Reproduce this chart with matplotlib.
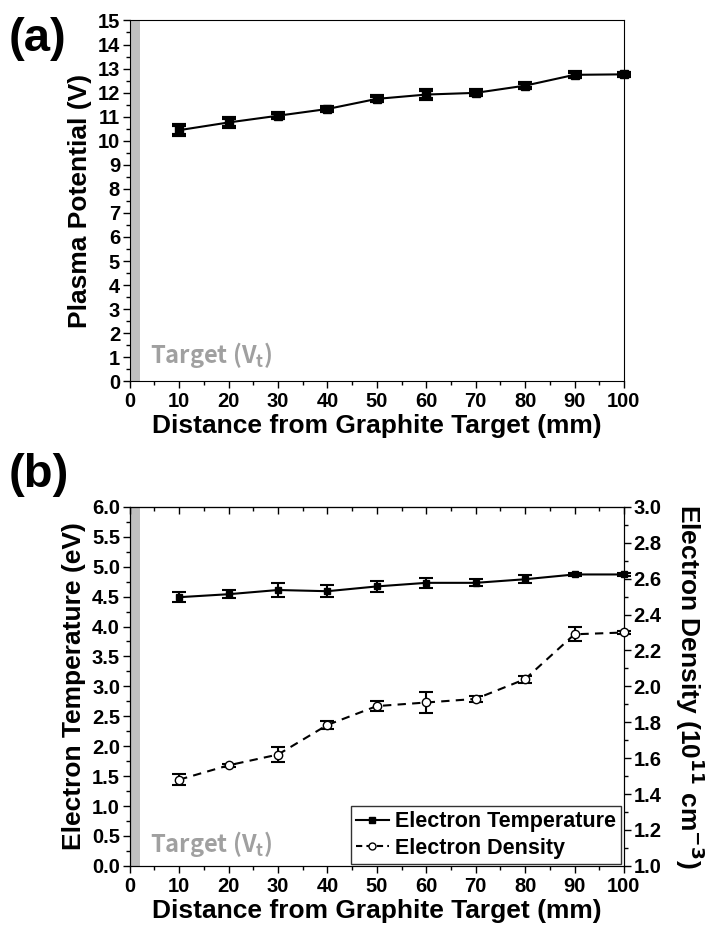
import matplotlib
matplotlib.use('Agg')
import matplotlib.pyplot as plt
from matplotlib.ticker import MultipleLocator
from matplotlib.lines import Line2D

# distance from graphite target (mm)
distance = [10, 20, 30, 40, 50, 60, 70, 80, 90, 100]

# (a) plasma potential (V)
potential = [10.44, 10.76, 11.04, 11.32, 11.74, 11.92, 11.99, 12.29, 12.74, 12.76]
potential_err = [0.2, 0.2, 0.1, 0.1, 0.1, 0.2, 0.1, 0.1, 0.1, 0.05]

# (b) electron temperature (eV) and density (1e11 cm^-3)
temperature = [4.49, 4.54, 4.61, 4.59, 4.67, 4.73, 4.73, 4.79, 4.87, 4.87]
temperature_err = [0.08, 0.07, 0.11, 0.10, 0.09, 0.08, 0.06, 0.07, 0.03, 0.02]
density = [1.48, 1.56, 1.62, 1.785, 1.89, 1.91, 1.93, 2.04, 2.29, 2.30]
density_err = [0.03, 0.01, 0.04, 0.02, 0.03, 0.06, 0.015, 0.02, 0.04, 0.01]

FONT = ['Liberation Sans', 'DejaVu Sans']
GRAY_FONT = ['Noto Sans CJK KR', 'DejaVu Sans']
GRAY = '#a0a0a0'
TICK_SIZE = 14.5
LABEL_SIZE = 19

plt.rcParams['font.family'] = FONT
plt.rcParams['font.weight'] = 'bold'
plt.rcParams['axes.labelweight'] = 'bold'
plt.rcParams['mathtext.default'] = 'bf'

fig = plt.figure(figsize=(7.09, 9.30), dpi=100)
ax1 = fig.add_axes([0.183, 0.590, 0.697, 0.388])
ax2 = fig.add_axes([0.183, 0.069, 0.697, 0.386])


def tick_fmt(ax, axis='both'):
    ax.tick_params(which='major', length=5, width=1.0)
    ax.tick_params(which='minor', length=3, width=1.0)
    ax.tick_params(axis=axis, labelsize=TICK_SIZE)


def style_ticks(ax, top_ticks):
    ax.xaxis.set_major_locator(MultipleLocator(10))
    ax.xaxis.set_minor_locator(MultipleLocator(5))
    ax.tick_params(axis='x', which='both', direction='out', top=False, pad=3)
    ax.tick_params(axis='y', which='both', direction='out', right=False, pad=2)
    tick_fmt(ax)
    if top_ticks:
        sec = ax.secondary_xaxis('top')
        sec.xaxis.set_major_locator(MultipleLocator(10))
        sec.xaxis.set_minor_locator(MultipleLocator(5))
        sec.tick_params(which='both', direction='in', labeltop=False)
        sec.tick_params(which='major', length=5, width=1.0)
        sec.tick_params(which='minor', length=3, width=1.0)


# ---- (a) plasma potential ----
ax1.axvspan(0, 2, color='#c0c0c0', lw=0, zorder=0)
ax1.errorbar(distance, potential, yerr=potential_err, color='black', lw=1.5,
             marker='s', ms=6, capsize=5, capthick=3, elinewidth=4, zorder=3,
             clip_on=False)
ax1.set_xlim(0, 100)
ax1.set_ylim(0, 15)
ax1.yaxis.set_major_locator(MultipleLocator(1))
ax1.yaxis.set_minor_locator(MultipleLocator(0.5))
style_ticks(ax1, top_ticks=False)
ax1.set_xlabel('Distance from Graphite Target (mm)', fontsize=LABEL_SIZE, labelpad=2)
ax1.set_ylabel('Plasma Potential (V)', fontsize=LABEL_SIZE, labelpad=4)
ax1.text(4, 0.45, r'Target (V$_\mathregular{t}$)', color=GRAY, fontsize=17,
         family=GRAY_FONT, fontweight='bold', va='bottom')
fig.text(0.012, 0.982, '(a)', fontsize=34, fontweight='bold', va='top')

# ---- (b) electron temperature and density ----
ax2.axvspan(0, 2, color='#c0c0c0', lw=0, zorder=0)
ax2.errorbar(distance, temperature, yerr=temperature_err, color='black', lw=1.5,
             marker='s', ms=5, capsize=5, capthick=1.5, elinewidth=1.5, zorder=3,
             clip_on=False)
ax2.set_xlim(0, 100)
ax2.set_ylim(0, 6)
ax2.yaxis.set_major_locator(MultipleLocator(0.5))
ax2.yaxis.set_minor_locator(MultipleLocator(0.25))
style_ticks(ax2, top_ticks=True)
ax2.set_xlabel('Distance from Graphite Target (mm)', fontsize=LABEL_SIZE, labelpad=2)
ax2.set_ylabel('Electron Temperature (eV)', fontsize=LABEL_SIZE, labelpad=4)
ax2.text(4, 0.12, r'Target (V$_\mathregular{t}$)', color=GRAY, fontsize=17,
         family=GRAY_FONT, fontweight='bold', va='bottom')
fig.text(0.012, 0.513, '(b)', fontsize=34, fontweight='bold', va='top')

ax3 = ax2.twinx()
ax3.errorbar(distance, density, yerr=density_err, color='black', lw=1.5, ls=(0, (4, 3)),
             marker='o', ms=6, mfc='white', mec='black', capsize=5, capthick=1.5,
             elinewidth=1.5, zorder=3, clip_on=False)
ax3.set_ylim(1.0, 3.0)
ax3.yaxis.set_major_locator(MultipleLocator(0.2))
ax3.yaxis.set_minor_locator(MultipleLocator(0.1))
ax3.tick_params(axis='y', which='both', direction='out', pad=2)
tick_fmt(ax3, axis='y')
ax3.set_ylabel(r'Electron Density (10$^{11}$ cm$^{-3}$)',
               fontsize=LABEL_SIZE, rotation=270, va='center')
ax3.yaxis.set_label_coords(1.134, 0.5)

handles = [
    Line2D([], [], color='black', lw=1.5, marker='s', ms=4),
    Line2D([], [], color='black', lw=1.5, ls=(0, (3, 2)), marker='o', ms=5, mfc='white'),
]
leg = ax2.legend(handles, ['Electron Temperature', 'Electron Density'], loc='lower right',
                 bbox_to_anchor=(0.995, 0.005), frameon=True, fancybox=False, handlelength=1.5,
                 handletextpad=0.3, borderpad=0.25, labelspacing=0.25, borderaxespad=0,
                 prop={'family': FONT, 'weight': 'bold', 'size': 15.5})
leg.get_frame().set_edgecolor('black')
leg.get_frame().set_linewidth(1.0)

fig.savefig('out.png', dpi=100)
